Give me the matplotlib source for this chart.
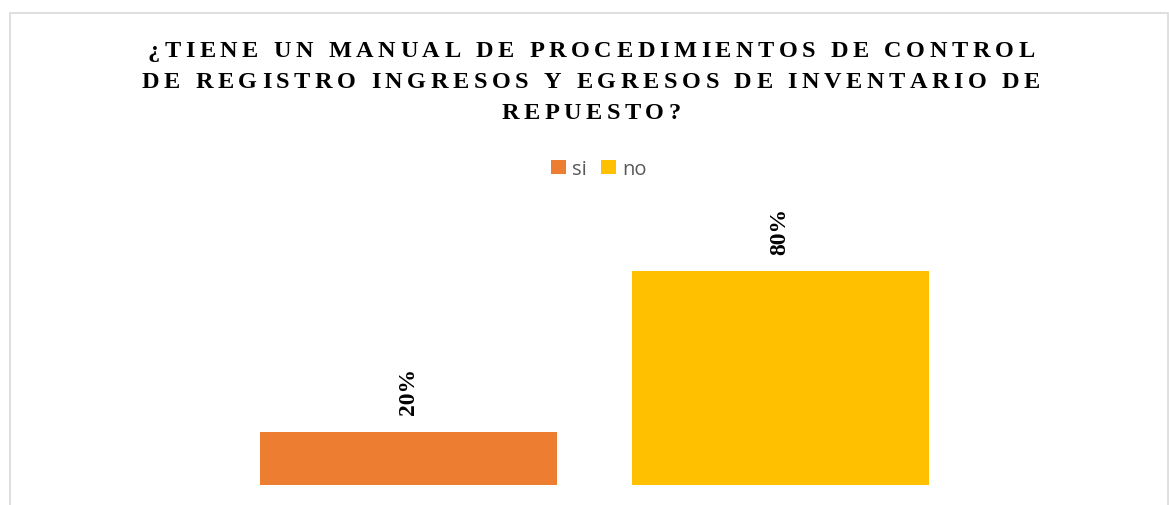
import matplotlib
matplotlib.use("Agg")
import matplotlib.pyplot as plt
from matplotlib.patches import Rectangle
from matplotlib.font_manager import FontProperties, findfont, get_font

# Data
categories = ["si", "no"]
values = [20, 80]
colors = ["#ED7D31", "#FFC000"]
title_lines = [
    "¿TIENE UN MANUAL DE PROCEDIMIENTOS DE CONTROL",
    "DE REGISTRO INGRESOS Y EGRESOS DE INVENTARIO DE",
    "REPUESTO?",
]

W, H, DPI = 1169, 506, 100
fig = plt.figure(figsize=(W / DPI, H / DPI), dpi=DPI)

# chart border (light gray frame)
fig.patches.append(Rectangle((9.5 / W, -0.05), (1168 - 9.5) / W, 1.05 - 13.5 / H,
                             transform=fig.transFigure, fill=False,
                             edgecolor="#D9D9D9", linewidth=1.2))

# plot area in pixel terms
ax = fig.add_axes([223 / W, (H - 486) / H, 743 / W, 267.5 / H])
bars = ax.bar(range(len(values)), values, width=0.8, color=colors, label=categories)
ax.set_xlim(-0.5, 1.5)
ax.set_ylim(0, 100)
ax.axis("off")

for b, v in zip(bars, values):
    ax.annotate(f"{v}%", (b.get_x() + b.get_width() / 2, v),
                xytext=(0, 17), textcoords="offset pixels",
                rotation=90, ha="center", va="bottom",
                family="Liberation Serif", fontweight="bold", fontsize=17)

# legend
fig.legend(bars, categories, loc="center", bbox_to_anchor=(599 / W, 1 - 170 / H),
           ncol=2, frameon=False, prop={"family": "Open Sans", "size": 14.5},
           labelcolor="#595959", handlelength=0.74, handleheight=0.74,
           handletextpad=0.3, columnspacing=0.7)

# title with letter spacing, drawn char by char
tsize = 17.5
fp = FontProperties(family="Liberation Serif", weight="bold")
font = get_font(findfont(fp))
font.set_size(tsize, DPI)
spacing = 4.6
cx = 591
baselines = [57, 88, 119]
for line, yb in zip(title_lines, baselines):
    advs = []
    for ch in line:
        g = font.load_char(ord(ch))
        advs.append(g.linearHoriAdvance / 65536)
    total = sum(advs) + spacing * (len(line) - 1)
    x = cx - total / 2
    for ch, a in zip(line, advs):
        if ch != " ":
            fig.text(x / W, 1 - yb / H, ch, family="Liberation Serif",
                     fontweight="bold", fontsize=tsize, ha="left", va="baseline")
        x += a + spacing

fig.savefig("out.png", dpi=DPI)
